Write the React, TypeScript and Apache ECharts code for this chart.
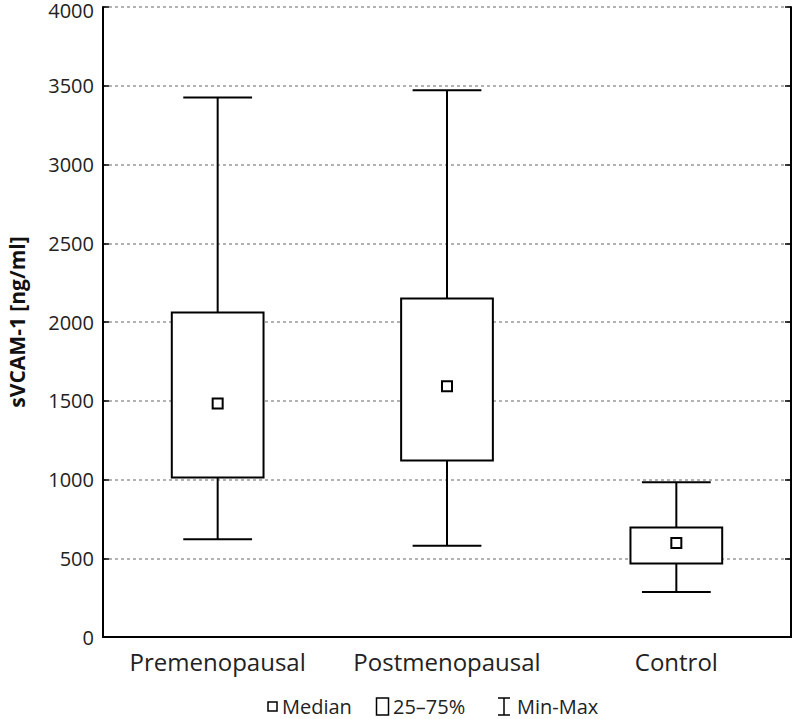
import React, { useEffect, useRef } from "react";
import * as echarts from "echarts";

const categories = ["Premenopausal", "Postmenopausal", "Control"];
const minValues = [620, 580, 285];
const q1Values = [1012, 1120, 467];
const medianValues = [1482, 1592, 597];
const q3Values = [2060, 2150, 695];
const maxValues = [3425, 3472, 982];
const yTicks = { min: 0, max: 4000, interval: 500 };
const legendLabels = ["Median", "25–75%", "Min-Max"];

const FONT = "'Open Sans', sans-serif";

export default function App() {
  const ref = useRef<HTMLDivElement>(null);
  useEffect(() => {
    if (!ref.current) return;
    const chart = echarts.init(ref.current, null, { renderer: "svg" });
    const data = categories.map((_, i) => [
      i,
      minValues[i],
      q1Values[i],
      medianValues[i],
      q3Values[i],
      maxValues[i],
    ]);
    const lineStyle = { stroke: "#000", lineWidth: 2, fill: "none" };
    const legendFont = `20px ${FONT}`;
    const option: any = {
      animation: false,
      backgroundColor: "#fff",
      grid: { left: 103, right: 2, top: 7, bottom: 82, containLabel: false, outerBoundsMode: "none" },
      xAxis: [
        {
          type: "category",
          data: categories,
          position: "bottom",
          boundaryGap: true,
          axisLine: { lineStyle: { color: "#000", width: 2 } },
          axisTick: { inside: true, alignWithLabel: true, length: 6, lineStyle: { color: "#000", width: 1.5 } },
          axisLabel: { color: "#222", fontSize: 24, fontFamily: FONT, margin: 12, interval: 0, hideOverlap: false },
          splitLine: { show: false },
        },
        {
          type: "category",
          data: categories,
          position: "top",
          boundaryGap: true,
          axisLine: { lineStyle: { color: "#000", width: 2 } },
          axisTick: { inside: true, alignWithLabel: true, length: 6, lineStyle: { color: "#000", width: 1.5 } },
          axisLabel: { show: false },
          splitLine: { show: false },
        },
      ],
      yAxis: [
        {
          type: "value",
          min: yTicks.min,
          max: yTicks.max,
          interval: yTicks.interval,
          position: "left",
          name: "sVCAM-1 [ng/ml]",
          nameLocation: "middle",
          nameGap: 76,
          nameTextStyle: { fontSize: 21, fontWeight: "bold", fontFamily: FONT, color: "#111" },
          axisLine: { show: true, lineStyle: { color: "#000", width: 2 } },
          axisTick: { show: true, inside: true, length: 6, lineStyle: { color: "#000", width: 1.5 } },
          axisLabel: {
            color: "#222",
            fontSize: 20,
            fontFamily: FONT,
            margin: 9,
            formatter: (v: number) => (v === yTicks.max ? `{t|${v}}` : String(v)),
            rich: { t: { color: "#222", fontSize: 20, fontFamily: FONT, padding: [7, 0, 0, 0] } },
          },
          splitLine: { show: true, lineStyle: { color: "#999", width: 1.5, type: [3, 3] } },
        },
        {
          type: "value",
          min: yTicks.min,
          max: yTicks.max,
          interval: yTicks.interval,
          position: "right",
          axisLine: { show: true, lineStyle: { color: "#000", width: 2 } },
          axisTick: { show: true, inside: true, length: 6, lineStyle: { color: "#000", width: 1.5 } },
          axisLabel: { show: false },
          splitLine: { show: false },
        },
      ],
      series: [
        {
          type: "custom",
          xAxisIndex: 0,
          yAxisIndex: 0,
          data,
          renderItem: (params: any, api: any) => {
            const idx = api.value(0);
            const pMin = api.coord([idx, api.value(1)]);
            const pQ1 = api.coord([idx, api.value(2)]);
            const pMed = api.coord([idx, api.value(3)]);
            const pQ3 = api.coord([idx, api.value(4)]);
            const pMax = api.coord([idx, api.value(5)]);
            const band = api.size([1, 0])[0];
            const boxW = band * 0.4;
            const capW = band * 0.3;
            const cx = pMed[0];
            const sq = 10;
            return {
              type: "group",
              children: [
                { type: "line", shape: { x1: cx, y1: pMax[1], x2: cx, y2: pQ3[1] }, style: lineStyle },
                { type: "line", shape: { x1: cx, y1: pQ1[1], x2: cx, y2: pMin[1] }, style: lineStyle },
                { type: "line", shape: { x1: cx - capW / 2, y1: pMax[1], x2: cx + capW / 2, y2: pMax[1] }, style: lineStyle },
                { type: "line", shape: { x1: cx - capW / 2, y1: pMin[1], x2: cx + capW / 2, y2: pMin[1] }, style: lineStyle },
                {
                  type: "rect",
                  shape: { x: cx - boxW / 2, y: pQ3[1], width: boxW, height: pQ1[1] - pQ3[1] },
                  style: { stroke: "#000", lineWidth: 2, fill: "#fff" },
                },
                {
                  type: "rect",
                  shape: { x: cx - sq / 2, y: pMed[1] - sq / 2, width: sq, height: sq },
                  style: { stroke: "#000", lineWidth: 2, fill: "#fff" },
                },
              ],
            };
          },
        },
      ],
      graphic: [
        { type: "rect", shape: { x: 268, y: 702, width: 9, height: 9 }, style: { stroke: "#000", lineWidth: 1.5, fill: "#fff" } },
        { type: "text", x: 282, y: 706, style: { text: legendLabels[0], font: legendFont, fill: "#222", verticalAlign: "middle" } },
        { type: "rect", shape: { x: 376.5, y: 698, width: 12, height: 17 }, style: { stroke: "#000", lineWidth: 1.5, fill: "#fff" } },
        { type: "text", x: 393, y: 706, style: { text: legendLabels[1], font: legendFont, fill: "#222", verticalAlign: "middle" } },
        { type: "line", shape: { x1: 504, y1: 698, x2: 504, y2: 715 }, style: { stroke: "#000", lineWidth: 1.5 } },
        { type: "line", shape: { x1: 498, y1: 698, x2: 510, y2: 698 }, style: { stroke: "#000", lineWidth: 1.5 } },
        { type: "line", shape: { x1: 498, y1: 715, x2: 510, y2: 715 }, style: { stroke: "#000", lineWidth: 1.5 } },
        { type: "text", x: 517, y: 706, style: { text: legendLabels[2], font: legendFont, fill: "#222", verticalAlign: "middle" } },
      ],
    };
    chart.setOption(option);
    return () => chart.dispose();
  }, []);
  return <div ref={ref} style={{ width: 793, height: 719, position: "absolute", left: 0, top: 0 }} />;
}
